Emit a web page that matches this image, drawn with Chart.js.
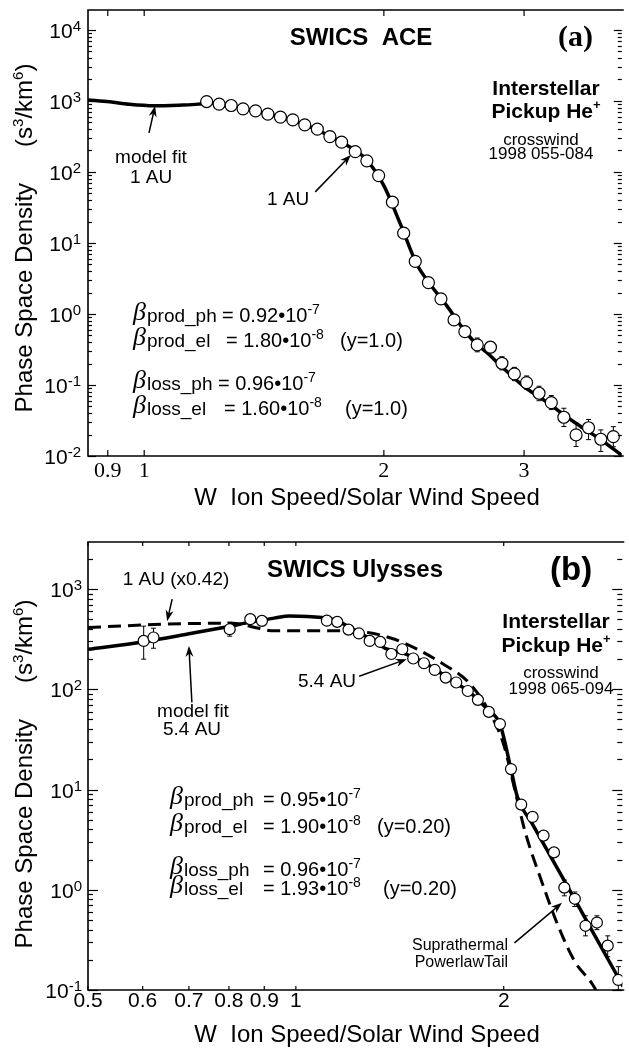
<!DOCTYPE html>
<html>
<head>
<meta charset="utf-8">
<script src="https://cdn.jsdelivr.net/npm/chart.js@4.4.0/dist/chart.umd.min.js"></script>
<style>
  html, body { margin: 0; padding: 0; background: #fff; }
  #wrap { position: relative; width: 629px; height: 1053px; }
  canvas { position: absolute; left: 0; }
</style>
</head>
<body>
<div id="wrap">
  <canvas id="chartA" width="629" height="520" style="top:0"></canvas>
  <canvas id="chartB" width="629" height="533" style="top:520px"></canvas>
</div>
<script>
// ---- panel (a): SWICS ACE, 1 AU ----
const aW = [1.198, 1.242, 1.286, 1.331, 1.380, 1.430, 1.483, 1.537, 1.591, 1.650, 1.711, 1.770, 1.841, 1.904, 1.970, 2.050, 2.118, 2.190, 2.275, 2.359, 2.450, 2.528, 2.620, 2.722, 2.814, 2.917, 3.022, 3.133, 3.246, 3.366, 3.487, 3.615, 3.746, 3.884];
const aF = [977, 899, 859, 771, 723, 650, 589, 540, 459, 399, 314, 262, 193, 143, 88.7, 37.4, 13.7, 5.49, 2.76, 1.63, 0.823, 0.563, 0.366, 0.340, 0.202, 0.143, 0.108, 0.0764, 0.0563, 0.0351, 0.0198, 0.0250, 0.0172, 0.0187];
const aErrLo = [null, null, null, null, null, null, null, null, null, null, null, null, null, null, null, null, null, null, null, null, null, null, 0.293, null, 0.163, 0.115, 0.087, 0.060, 0.045, 0.026, 0.0136, 0.0170, 0.0116, 0.0135];
const aErrHi = [null, null, null, null, null, null, null, null, null, null, null, null, null, null, null, null, null, null, null, null, null, null, 0.458, null, 0.250, 0.177, 0.134, 0.096, 0.071, 0.047, 0.029, 0.0327, 0.0233, 0.0259];
const aModelW = [0.85, 0.905, 0.958, 1.03, 1.105, 1.17, 1.2, 1.3, 1.4, 1.5, 1.6, 1.7, 1.8, 1.9, 2.0, 2.1, 2.2, 2.3, 2.4, 2.5, 2.6, 2.7, 2.8, 3.0, 3.2, 3.37, 3.5, 3.75, 3.98];
const aModelF = [1030, 968, 893, 851, 869, 899, 940, 830, 690, 570, 450, 330, 235, 150, 64, 17.9, 5.0, 2.4, 1.3, 0.68, 0.40, 0.28, 0.19, 0.0946, 0.058, 0.0377, 0.028, 0.0168, 0.0102];
const aTicksX = [0.9, 1, 2, 3];
const aLabelsX = ['0.9', '1', '2', '3'];
const aDecades = [-2, -1, 0, 1, 2, 3, 4];

// ---- panel (b): SWICS Ulysses, 5.4 AU ----
const bW = [0.602, 0.622, 0.802, 0.859, 0.893, 1.109, 1.148, 1.192, 1.234, 1.279, 1.325, 1.375, 1.426, 1.479, 1.533, 1.589, 1.648, 1.707, 1.774, 1.835, 1.903, 1.975, 2.049, 2.120, 2.202, 2.284, 2.365, 2.448, 2.535, 2.627, 2.729, 2.829, 2.931];
const bF = [304, 329, 398, 501, 482, 484, 471, 394, 361, 304, 297, 225, 251, 203, 182, 156, 131, 117, 96.2, 78.5, 59.6, 45.0, 16.0, 7.08, 5.33, 3.47, 2.36, 1.05, 0.813, 0.437, 0.471, 0.277, 0.126];
const bErrLo = [200, 257, 339, null, null, null, null, null, null, null, null, null, null, null, null, null, null, null, null, null, null, null, null, null, null, null, null, 0.87, 0.68, 0.347, 0.40, 0.215, 0.1];
const bErrHi = [427, 407, 467, null, null, null, null, null, null, null, null, null, null, null, null, null, null, null, null, null, null, null, null, null, null, null, null, 1.25, 0.95, 0.55, 0.55, 0.347, 0.171];
const bModelW = [0.5, 0.6, 0.7, 0.8, 0.86, 0.93, 0.98, 1.09, 1.15, 1.2, 1.28, 1.35, 1.43, 1.5, 1.59, 1.65, 1.77, 1.83, 1.9, 1.975, 2.049, 2.092, 2.2, 2.45, 2.7, 2.98];
const bModelF = [251, 297, 358, 424, 468, 513, 540, 520, 480, 410, 320, 255, 230, 200, 160, 133, 98, 80, 62, 45, 16, 8.57, 4.54, 1.22, 0.365, 0.108];
const b1auW = [0.5, 0.65, 0.81, 0.86, 0.93, 1.14, 1.27, 1.39, 1.5, 1.63, 1.78, 1.9, 2.0, 2.08, 2.15, 2.27, 2.4, 2.535, 2.68, 2.72];
const b1auF = [414, 447, 457, 424, 383, 383, 369, 316, 251, 181, 117, 62, 28, 9.3, 3.7, 1.21, 0.43, 0.192, 0.118, 0.1];
const bTicksX = [0.5, 0.6, 0.7, 0.8, 0.9, 1, 2];
const bLabelsX = ['0.5', '0.6', '0.7', '0.8', '0.9', '1', '2'];
const bDecades = [-1, 0, 1, 2, 3];

const SANS = '"Liberation Sans", Arial, Helvetica, sans-serif';
const SERIF = '"Liberation Serif", "Times New Roman", Times, serif';
const sans = (px, w) => (w ? w + ' ' : '') + px + 'px ' + SANS;

function line(ctx, x1, y1, x2, y2) {
  ctx.beginPath(); ctx.moveTo(x1, y1); ctx.lineTo(x2, y2); ctx.stroke();
}

// draw a row of text pieces (for superscripts), align left/center/right
function drawRuns(ctx, x, y, parts, align) {
  let w = 0;
  parts.forEach(p => { ctx.font = p.f; w += p.gap || ctx.measureText(p.t).width; });
  let cx = align === 'center' ? x - w / 2 : align === 'right' ? x - w : x;
  parts.forEach(p => {
    ctx.font = p.f;
    if (!p.gap) ctx.fillText(p.t, cx, y + (p.dy || 0));
    cx += p.gap || ctx.measureText(p.t).width;
  });
  return cx;
}

function arrow(ctx, x1, y1, x2, y2) {
  const a = Math.atan2(y2 - y1, x2 - x1), L = 11, W = 4;
  const c = Math.cos(a), s = Math.sin(a);
  ctx.lineWidth = 1.5;
  line(ctx, x1, y1, x2 - c * L * 0.6, y2 - s * L * 0.6);
  ctx.beginPath();
  ctx.moveTo(x2, y2);
  ctx.lineTo(x2 - L * c + W * s, y2 - L * s - W * c);
  ctx.lineTo(x2 - L * 0.7 * c, y2 - L * 0.7 * s);
  ctx.lineTo(x2 - L * c - W * s, y2 - L * s + W * c);
  ctx.closePath();
  ctx.fill();
}

// arrow given in data units (W, f)
function dataArrow(chart, w1, f1, w2, f2) {
  const { x, y } = chart.scales;
  arrow(chart.ctx, x.getPixelForValue(w1), y.getPixelForValue(f1), x.getPixelForValue(w2), y.getPixelForValue(f2));
}

function betaLine(ctx, x, base, sub, eqX, val, exp, tail, tailX) {
  ctx.font = 'italic 26px ' + SERIF;
  ctx.fillText('\u03B2', x, base - 2);
  ctx.font = sans(19);
  ctx.fillText(sub, x + 14, base);
  drawRuns(ctx, eqX, base, [{ t: val, f: sans(20) }, { t: exp, f: sans(14), dy: -8 }], 'left');
  if (tail) { ctx.font = sans(20); ctx.fillText(tail, tailX, base); }
}

function drawAxes(chart, c) {
  const { ctx, chartArea: ca, scales: { x, y } } = chart;
  ctx.save();
  ctx.strokeStyle = '#000'; ctx.fillStyle = '#000';
  ctx.lineWidth = 1.6;
  ctx.beginPath();
  ctx.moveTo(ca.right + 2, ca.top); ctx.lineTo(ca.left, ca.top);
  ctx.lineTo(ca.left, ca.bottom); ctx.lineTo(ca.right + 2, ca.bottom);
  ctx.stroke();
  ctx.lineWidth = 1.2;
  c.xTicks.forEach(v => {
    const px = x.getPixelForValue(v);
    line(ctx, px, ca.bottom, px, ca.bottom - c.xTickLen);
    line(ctx, px, ca.top, px, ca.top + c.xTickLen);
  });
  c.decades.forEach(d => {
    for (let m = 1; m <= 9; m++) {
      const v = m * Math.pow(10, d);
      if (v < y.min || v > y.max) continue;
      const py = Math.round(y.getPixelForValue(v)) + 0.5;
      const len = m === 1 ? c.majorLen : c.minorLen;
      line(ctx, ca.left, py, ca.left + len, py);
      line(ctx, ca.right, py, ca.right - len, py);
    }
  });
  ctx.textBaseline = 'alphabetic';
  c.decades.forEach(d => {
    const py = y.getPixelForValue(Math.pow(10, d));
    drawRuns(ctx, c.yLabelRight, py + 8, [{ t: '10', f: sans(21) }, { t: String(d), f: sans(15), dy: -7 }], 'right');
  });
  ctx.textAlign = 'center';
  ctx.font = c.xLabelFont;
  c.xTicks.forEach((v, i) => ctx.fillText(c.xLabels[i], x.getPixelForValue(v), ca.bottom + c.xLabelDy));
  ctx.textAlign = 'left';
  // axis titles
  drawRuns(ctx, 367, ca.bottom + c.xTitleDy, [{ t: 'W  Ion Speed/Solar Wind Speed', f: sans(24) }], 'center');
  ctx.save();
  ctx.translate(32, c.yTitleMid);
  ctx.rotate(-Math.PI / 2);
  drawRuns(ctx, 0, 0, [
    { t: 'Phase Space Density', f: sans(24) }, { gap: 36, f: sans(24) },
    { t: '(s', f: sans(24) }, { t: '3', f: sans(15), dy: -9 },
    { t: '/km', f: sans(24) }, { t: '6', f: sans(15), dy: -9 }, { t: ')', f: sans(24) }
  ], 'center');
  ctx.restore();
  ctx.restore();
}

function errorBars(chart, xs, lo, hi) {
  const { ctx, scales: { x, y } } = chart;
  ctx.save();
  ctx.strokeStyle = '#000'; ctx.lineWidth = 1;
  xs.forEach((w, i) => {
    if (lo[i] == null) return;
    const px = x.getPixelForValue(w);
    const y1 = y.getPixelForValue(Math.max(lo[i], y.min)), y2 = y.getPixelForValue(hi[i]);
    line(ctx, px, y1, px, y2);
    line(ctx, px - 2.5, y1, px + 2.5, y1);
    line(ctx, px - 2.5, y2, px + 2.5, y2);
  });
  ctx.restore();
}

function makePanelPlugin(axisCfg, xs, lo, hi, decorate) {
  return {
    id: 'panelDecor',
    beforeDatasetDraw(chart, args) {
      if (args.index === 0) errorBars(chart, xs, lo, hi);
    },
    afterDraw(chart) {
      drawAxes(chart, axisCfg);
      const ctx = chart.ctx;
      ctx.save();
      ctx.fillStyle = '#000'; ctx.strokeStyle = '#000';
      ctx.textBaseline = 'alphabetic'; ctx.textAlign = 'left';
      decorate(chart, ctx);
      ctx.restore();
    }
  };
}

const pts = (xs, ys) => xs.map((v, i) => ({ x: v, y: ys[i] }));

function baseOptions(xMin, xMax, yMin, yMax, pad) {
  return {
    responsive: false,
    animation: false,
    events: [],
    layout: { padding: pad },
    scales: {
      x: { type: 'logarithmic', min: xMin, max: xMax, display: false },
      y: { type: 'logarithmic', min: yMin, max: yMax, display: false }
    },
    plugins: { legend: { display: false }, tooltip: { enabled: false } }
  };
}

// ---------- chart (a) ----------
new Chart(document.getElementById('chartA'), {
  type: 'scatter',
  data: {
    datasets: [
      { label: 'ACE 1998 055-084', data: pts(aW, aF), pointRadius: 6, pointBackgroundColor: '#fff', pointBorderColor: '#000', pointBorderWidth: 1.2, showLine: false, order: 0 },
      { label: 'model fit 1 AU', data: pts(aModelW, aModelF), showLine: true, pointRadius: 0, borderColor: '#000', borderWidth: 3.5, cubicInterpolationMode: 'monotone', order: 1 }
    ]
  },
  options: baseOptions(0.85, 3.98, 0.01, 1.9e4, { left: 88, right: 1, top: 10, bottom: 64 }),
  plugins: [makePanelPlugin({
    xTicks: aTicksX, xLabels: aLabelsX, xTickLen: 6, decades: aDecades,
    majorLen: 8, minorLen: 4, yLabelRight: 81,
    xLabelFont: '22px ' + SERIF, xLabelDy: 21, xTitleDy: 49, yTitleMid: 238
  }, aW, aErrLo, aErrHi, (chart, ctx) => {
    ctx.font = sans(24, 'bold');
    ctx.textAlign = 'center';
    ctx.fillText('SWICS  ACE', 361, 45);
    ctx.textAlign = 'left';
    ctx.font = 'bold 30px ' + SERIF;
    ctx.fillText('(a)', 558, 46);
    ctx.textAlign = 'center';
    ctx.font = sans(21, 'bold');
    ctx.fillText('Interstellar', 546, 95);
    ctx.textAlign = 'left';
    drawRuns(ctx, 546, 118, [{ t: 'Pickup He', f: sans(21, 'bold') }, { t: '+', f: sans(13, 'bold'), dy: -9 }], 'center');
    ctx.textAlign = 'center';
    ctx.font = sans(17);
    ctx.fillText('crosswind', 541, 145);
    ctx.fillText('1998 055-084', 541, 159);
    ctx.font = sans(19);
    ctx.fillText('model fit', 151, 163);
    ctx.fillText('1 AU', 151, 183);
    ctx.textAlign = 'left';
    ctx.fillText('1 AU', 267, 205);
    dataArrow(chart, 1.014, 354, 1.032, 851);
    dataArrow(chart, 1.640, 52.3, 1.818, 173);
    betaLine(ctx, 133, 322, 'prod_ph', 222, '= 0.92\u202210', '-7');
    betaLine(ctx, 133, 347, 'prod_el', 226, '= 1.80\u202210', '-8', '(y=1.0)', 340);
    betaLine(ctx, 133, 390, 'loss_ph', 218, '= 0.96\u202210', '-7');
    betaLine(ctx, 133, 415, 'loss_el', 224, '= 1.60\u202210', '-8', '(y=1.0)', 345);
  })]
});

// ---------- chart (b) ----------
new Chart(document.getElementById('chartB'), {
  type: 'scatter',
  data: {
    datasets: [
      { label: 'Ulysses 1998 065-094', data: pts(bW, bF), pointRadius: 5.5, pointBackgroundColor: '#fff', pointBorderColor: '#000', pointBorderWidth: 1.2, showLine: false, order: 0 },
      { label: 'model fit 5.4 AU', data: pts(bModelW, bModelF), showLine: true, pointRadius: 0, borderColor: '#000', borderWidth: 3.5, cubicInterpolationMode: 'monotone', order: 1 },
      { label: '1 AU (x0.42)', data: pts(b1auW, b1auF), showLine: true, pointRadius: 0, borderColor: '#000', borderWidth: 3, borderDash: [13, 7], cubicInterpolationMode: 'monotone', order: 2 }
    ]
  },
  options: baseOptions(0.5, 2.97, 0.1, 2950, { left: 88, right: 1, top: 22, bottom: 63 }),
  plugins: [makePanelPlugin({
    xTicks: bTicksX, xLabels: bLabelsX, xTickLen: 4, decades: bDecades,
    majorLen: 10, minorLen: 5, yLabelRight: 82,
    xLabelFont: sans(21), xLabelDy: 17, xTitleDy: 52, yTitleMid: 254
  }, bW, bErrLo, bErrHi, (chart, ctx) => {
    ctx.font = sans(24, 'bold');
    ctx.textAlign = 'center';
    ctx.fillText('SWICS Ulysses', 355, 57);
    ctx.textAlign = 'left';
    ctx.font = sans(33, 'bold');
    ctx.fillText('(b)', 550, 60);
    ctx.textAlign = 'center';
    ctx.font = sans(21, 'bold');
    ctx.fillText('Interstellar', 556, 108);
    ctx.textAlign = 'left';
    drawRuns(ctx, 556, 132, [{ t: 'Pickup He', f: sans(21, 'bold') }, { t: '+', f: sans(13, 'bold'), dy: -9 }], 'center');
    ctx.textAlign = 'center';
    ctx.font = sans(17);
    ctx.fillText('crosswind', 561, 158);
    ctx.fillText('1998 065-094', 561, 174);
    ctx.font = sans(19);
    ctx.fillText('1 AU (x0.42)', 176, 65);
    ctx.fillText('model fit', 193, 197);
    ctx.fillText('5.4 AU', 192, 215);
    ctx.textAlign = 'left';
    ctx.fillText('5.4 AU', 298, 167);
    ctx.textAlign = 'right';
    ctx.font = sans(16);
    ctx.fillText('Suprathermal', 508, 430);
    ctx.fillText('PowerlawTail', 508, 447);
    ctx.textAlign = 'left';
    dataArrow(chart, 0.662, 794, 0.651, 479);
    dataArrow(chart, 0.707, 74.1, 0.700, 271);
    dataArrow(chart, 1.235, 135, 1.447, 200);
    dataArrow(chart, 2.073, 0.295, 2.429, 0.741);
    betaLine(ctx, 170, 286, 'prod_ph', 263, '= 0.95\u202210', '-7');
    betaLine(ctx, 170, 313, 'prod_el', 263, '= 1.90\u202210', '-8', '(y=0.20)', 377);
    betaLine(ctx, 170, 356, 'loss_ph', 263, '= 0.96\u202210', '-7');
    betaLine(ctx, 170, 375, 'loss_el', 263, '= 1.93\u202210', '-8', '(y=0.20)', 383);
  })]
});
</script>
</body>
</html>
